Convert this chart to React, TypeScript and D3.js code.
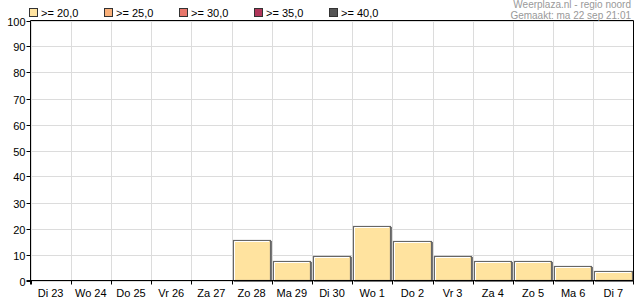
import React from "react";
import * as d3 from "d3";

const categories = ["Di 23","Wo 24","Do 25","Vr 26","Za 27","Zo 28","Ma 29","Di 30","Wo 1","Do 2","Vr 3","Za 4","Zo 5","Ma 6","Di 7"];
const values = [0, 0, 0, 0, 0, 15.4, 7.6, 9.5, 21.0, 15.3, 9.5, 7.6, 7.6, 5.7, 3.7];
const yTicks = [0,10,20,30,40,50,60,70,80,90,100];
const legendLabels = [">= 20,0", ">= 25,0", ">= 30,0", ">= 35,0", ">= 40,0"];
const legendColors = ["#FFE39F", "#F9B07A", "#E8776B", "#B0365A", "#555555"];
const titleLines = ["Weerplaza.nl - regio noord", "Gemaakt: ma 22 sep 21:01"];

export default function App() {
  const W = 635, H = 300;
  const left = 30.5, right = 633.5, top = 20.5, bottom = 280.5;
  const x = d3.scaleBand<string>().domain(categories).range([left, right]).paddingInner(0).paddingOuter(0);
  const y = d3.scaleLinear().domain([0, 100]).range([bottom, top]);
  const font = "'Liberation Sans', Arial, sans-serif";
  return (
    <div style={{ position: "absolute", left: 0, top: 0 }}>
      <svg width={W} height={H} style={{ display: "block" }} fontFamily={font}>
        <rect x={0} y={0} width={W} height={H} fill="#fff" />
        {yTicks.map((t) => (
          <line key={"gy" + t} x1={left} x2={right} y1={Math.round(y(t)) + 0.5} y2={Math.round(y(t)) + 0.5} stroke="#dcdcdc" />
        ))}
        {categories.map((c) => (
          <line key={"gx" + c} x1={Math.round(x(c)!) + 0.5} x2={Math.round(x(c)!) + 0.5} y1={top} y2={bottom} stroke="#dcdcdc" />
        ))}
        {categories.map((c, i) => {
          const v = values[i];
          if (!v) return null;
          const x0 = Math.round(x(c)!) + 1;
          const x1 = Math.round(x(c)! + x.bandwidth()) - 1;
          const yt = Math.round(y(v));
          const yb = Math.round(y(0));
          return (
            <g key={"b" + c}>
              <rect x={x0 + 1} y={yt + 1} width={x1 - x0} height={yb - yt} fill="#777" />
              <rect x={x0 + 0.5} y={yt + 0.5} width={x1 - x0 - 1} height={yb - yt - 1} fill={legendColors[0]} stroke="#666" strokeWidth={1.2} />
              <polyline points={`${x0 + 1.5},${yb - 1} ${x0 + 1.5},${yt + 1.5} ${x1 - 2},${yt + 1.5}`} fill="none" stroke="#fff" strokeWidth={1} />
            </g>
          );
        })}
        <line x1={left} x2={right} y1={top} y2={top} stroke="#000" />
        <line x1={right} x2={right} y1={top} y2={bottom} stroke="#000" />
        <line x1={left} x2={left} y1={top} y2={bottom + 4} stroke="#000" />
        <line x1={left - 4} x2={right} y1={bottom} y2={bottom} stroke="#000" />
        {yTicks.map((t) => (
          <g key={"yt" + t}>
            <line x1={left - 4} x2={left} y1={Math.round(y(t)) + 0.5} y2={Math.round(y(t)) + 0.5} stroke="#000" />
            <text x={left - 5} y={Math.round(y(t)) + 4.5} fontSize={11} textAnchor="end" fill="#000">{t}</text>
          </g>
        ))}
        {categories.map((c) => (
          <g key={"xt" + c}>
            <line x1={Math.round(x(c)!) + 0.5} x2={Math.round(x(c)!) + 0.5} y1={bottom} y2={bottom + 4} stroke="#000" />
            <text x={x(c)! + x.bandwidth() / 2} y={297} fontSize={11} textAnchor="middle" fill="#000">{c}</text>
          </g>
        ))}
        <line x1={right} x2={right} y1={bottom} y2={bottom + 4} stroke="#000" />
        {legendLabels.map((l, i) => (
          <g key={"lg" + i}>
            <rect x={29.5 + i * 75} y={8.5} width={8} height={8} fill={legendColors[i]} stroke="#333" />
            <text x={41 + i * 75} y={17} fontSize={11} fill="#000">{l}</text>
          </g>
        ))}
        <text x={631} y={8} fontSize={10} textAnchor="end" fill="#999">{titleLines[0]}</text>
        <text x={631} y={18.5} fontSize={10} textAnchor="end" fill="#999">{titleLines[1]}</text>
      </svg>
    </div>
  );
}
